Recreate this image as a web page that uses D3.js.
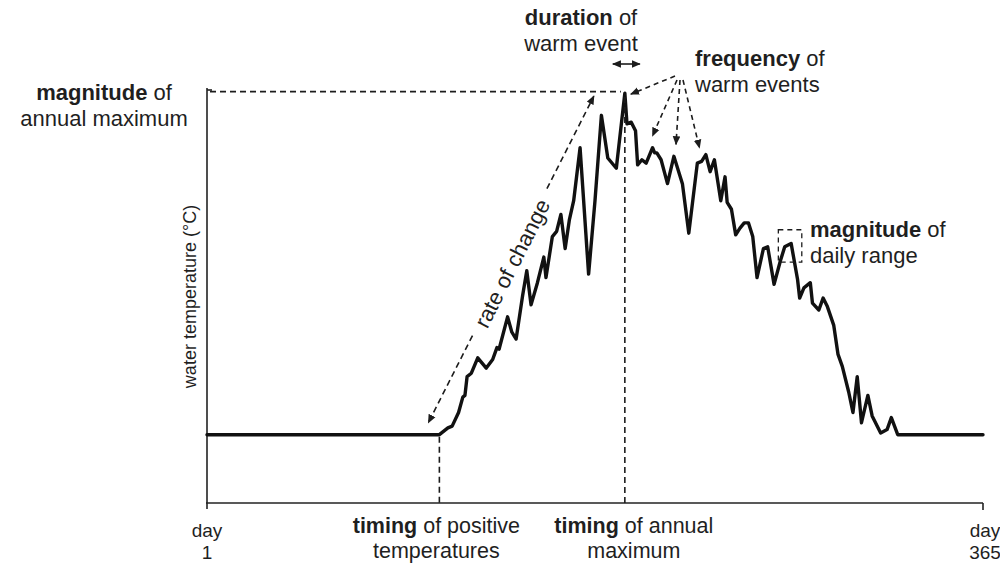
<!DOCTYPE html>
<html>
<head>
<meta charset="utf-8">
<script src="https://cdn.jsdelivr.net/npm/d3@7/dist/d3.min.js"></script>
<style>
  html, body { margin: 0; padding: 0; background: #fff; }
  svg { display: block; }
  text { font-family: "Liberation Sans", Arial, sans-serif; fill: #1f1f1f; }
</style>
</head>
<body>
<svg id="chart" width="1000" height="567"></svg>
<script>
// Daily water temperature over one year (day of year, °C relative to 0)
const days  = [1, 110, 114, 116, 119, 121, 122, 123, 125, 128, 132, 135, 137, 138, 142, 144, 146, 149, 151, 153,
               156, 159, 160, 163, 165, 167, 169, 171, 173, 176, 180, 183, 186, 189, 193, 197, 198, 200, 202, 203,
               205, 207, 210, 211, 212, 214, 217, 220, 224, 227, 231, 233, 235, 237, 239, 242, 244, 245, 247, 249,
               251, 253, 255, 257, 259, 262, 264, 267, 270, 272, 275, 278, 279, 281, 284, 285, 288, 290, 292, 295,
               297, 299, 302, 304, 306, 308, 311, 313, 317, 320, 322, 325, 365];
const temps = [0, 0, 0.4, 0.5, 1.3, 2.2, 2.3, 3.4, 3.6, 4.5, 3.9, 4.4, 5.1, 5.0, 6.9, 6.0, 5.6, 8.1, 9.6, 7.6,
               8.9, 10.4, 9.2, 11.6, 11.9, 12.9, 10.9, 12.6, 13.7, 16.8, 9.4, 13.7, 18.7, 16.2, 15.6, 20.0, 18.2, 18.3, 17.8, 15.8,
               16.1, 15.9, 16.8, 16.5, 16.5, 16.1, 14.7, 16.3, 14.7, 11.8, 15.9, 16.0, 16.4, 15.4, 16.1, 13.7, 15.1, 13.6, 13.2, 11.7,
               12.1, 12.4, 12.4, 11.6, 9.2, 10.9, 11.0, 8.8, 10.2, 11.0, 11.2, 9.1, 8.0, 8.6, 8.9, 7.7, 7.3, 8.0, 7.5, 6.4,
               4.7, 4.0, 2.5, 1.3, 3.4, 0.7, 2.3, 1.1, 0.1, 0.3, 1.0, 0, 0];

// Axis end labels
const tickDays   = [1, 365];
const tickLabels = [["day", "1"], ["day", "365"]];

// Timing markers on the x axis
const timingDays   = [110, 197];
const timingLabels = [["timing", " of positive", "temperatures"], ["timing", " of annual", "maximum"]];

// Warm events pointed at by the frequency arrows (day, °C)
const warmEventDays  = [197, 210, 221, 232];
const warmEventTemps = [20.0, 17.5, 17.0, 16.8];

// Daily range box (day span, °C span)
const rangeDays  = [269, 280];
const rangeTemps = [10.1, 12.0];

const svg = d3.select("#chart");

const x = d3.scaleLinear().domain([1, 365]).range([207, 983]);
const y = d3.scaleLinear().domain([-4, 20.3]).range([503, 88]);

const ink = "#1c1c1c";
const dash = "6,4";

// arrowhead marker
const defs = svg.append("defs");
defs.append("marker")
  .attr("id", "head")
  .attr("viewBox", "0 0 10 10")
  .attr("refX", 9).attr("refY", 5)
  .attr("markerWidth", 9).attr("markerHeight", 9)
  .attr("markerUnits", "userSpaceOnUse")
  .attr("orient", "auto-start-reverse")
  .append("path")
  .attr("d", "M0,0.8 L10,5 L0,9.2 Z")
  .attr("fill", ink);

// ---- axes ----
const axes = svg.append("g").attr("stroke", "#222").attr("stroke-width", 1.6).attr("fill", "none");
axes.append("line").attr("x1", x(1)).attr("x2", x(1)).attr("y1", y.range()[1]).attr("y2", y.range()[0] + 6);
axes.append("line").attr("x1", x(1)).attr("x2", x(1) + 5).attr("y1", y.range()[1] + 2).attr("y2", y.range()[1] + 2);
axes.append("line").attr("x1", x(1) - 1).attr("x2", x(365)).attr("y1", y.range()[0]).attr("y2", y.range()[0]);
axes.append("line").attr("x1", x(365)).attr("x2", x(365)).attr("y1", y.range()[0]).attr("y2", y.range()[0] + 7);

// x-axis end labels
tickDays.forEach((d, i) => {
  const t = svg.append("text").attr("text-anchor", "middle").attr("font-size", 19)
    .attr("transform", `translate(${x(d) + (i ? 2 : 0)},0)`);
  t.append("tspan").attr("x", 0).attr("y", 537).text(tickLabels[i][0]);
  t.append("tspan").attr("x", 0).attr("y", 559).text(tickLabels[i][1]);
});

// y-axis title
svg.append("text")
  .attr("transform", `translate(196,${(y.range()[0] + y.range()[1]) / 2 + 1}) rotate(-90)`)
  .attr("text-anchor", "middle").attr("font-size", 18)
  .text("water temperature (°C)");

// ---- temperature curve ----
const series = days.map((d, i) => [d, temps[i]]);
svg.append("path")
  .datum(series)
  .attr("fill", "none")
  .attr("stroke", "#111")
  .attr("stroke-width", 3.4)
  .attr("stroke-linejoin", "round")
  .attr("stroke-linecap", "round")
  .attr("d", d3.line().x(d => x(d[0])).y(d => y(d[1])));

const maxT = d3.max(temps);
const maxDay = days[temps.indexOf(maxT)];

const ann = svg.append("g").attr("stroke", ink).attr("stroke-width", 1.6).attr("fill", "none");

// magnitude of annual maximum: dashed level line
ann.append("line")
  .attr("x1", x(1) + 3).attr("x2", x(maxDay) - 4)
  .attr("y1", y(maxT) - 1.5).attr("y2", y(maxT) - 1.5)
  .attr("stroke-dasharray", dash);

// timing markers: dashed verticals down to the axis
ann.append("line")
  .attr("x1", x(timingDays[0])).attr("x2", x(timingDays[0]))
  .attr("y1", y(0) + 2).attr("y2", y.range()[0])
  .attr("stroke-dasharray", dash);
ann.append("line")
  .attr("x1", x(maxDay)).attr("x2", x(maxDay))
  .attr("y1", y(maxT) + 4).attr("y2", y.range()[0])
  .attr("stroke-dasharray", dash);

// rate of change: double-headed dashed arrow, broken around its label
const rA = [x(timingDays[0]) - 11, y(0) - 12];
const rB = [x(maxDay) - 31, y(maxT) + 3];
const ang = Math.atan2(rB[1] - rA[1], rB[0] - rA[0]);
const mid = [(rA[0] + rB[0]) / 2 + 1, (rA[1] + rB[1]) / 2 + 4];
const rateLabel = svg.append("text")
  .attr("transform", `translate(${mid[0]},${mid[1]}) rotate(${ang * 180 / Math.PI})`)
  .attr("text-anchor", "middle").attr("dy", "0.35em").attr("font-size", 22)
  .text("rate of change");
const gap = rateLabel.node().getComputedTextLength() / 2 + 12;
const midLen = Math.hypot(mid[0] - rA[0], mid[1] - rA[1]);
const along = t => [rA[0] + Math.cos(ang) * t, rA[1] + Math.sin(ang) * t];
const p1 = along(midLen - gap), p2 = along(midLen + gap);
ann.append("line")
  .attr("x1", p1[0]).attr("y1", p1[1]).attr("x2", rA[0]).attr("y2", rA[1])
  .attr("stroke-dasharray", dash).attr("marker-end", "url(#head)");
ann.append("line")
  .attr("x1", p2[0]).attr("y1", p2[1]).attr("x2", rB[0]).attr("y2", rB[1])
  .attr("stroke-dasharray", dash).attr("marker-end", "url(#head)");

// duration of warm event: short solid double arrow
ann.append("line")
  .attr("x1", x(maxDay) - 12).attr("x2", x(maxDay) + 15)
  .attr("y1", 64).attr("y2", 64)
  .attr("marker-start", "url(#head)").attr("marker-end", "url(#head)");

// frequency of warm events: dashed arrows fanning out to each event
const fanOrigin = [680, 77];
warmEventDays.forEach((d, i) => {
  const tx = x(d) + (i === 0 ? 6 : 0);
  const ty = y(warmEventTemps[i]) + (i === 0 ? 1 : 0);
  const ox = fanOrigin[0] + (i === 0 ? -5 : i === 1 ? -3 : i === 2 ? 0 : 3);
  ann.append("line")
    .attr("x1", ox).attr("y1", fanOrigin[1] + (i === 0 ? -1 : 3))
    .attr("x2", tx).attr("y2", ty)
    .attr("stroke-dasharray", "5,4").attr("marker-end", "url(#head)");
});

// magnitude of daily range: dashed box
ann.append("rect")
  .attr("x", x(rangeDays[0])).attr("y", y(rangeTemps[1]))
  .attr("width", x(rangeDays[1]) - x(rangeDays[0]))
  .attr("height", y(rangeTemps[0]) - y(rangeTemps[1]))
  .attr("stroke-width", 1.3)
  .attr("stroke-dasharray", "5,4");

// ---- annotation labels ----
function label(cx, y1, bold, rest, line2, anchor, size) {
  const t = svg.append("text").attr("text-anchor", anchor).attr("font-size", size);
  const a = t.append("tspan").attr("x", cx).attr("y", y1);
  a.append("tspan").attr("font-weight", "bold").text(bold);
  a.append("tspan").text(rest);
  t.append("tspan").attr("x", cx).attr("y", y1 + 26).text(line2);
  return t;
}
label(104, 100, "magnitude", " of", "annual maximum", "middle", 22);
label(581, 25, "duration", " of", "warm event", "middle", 22);
label(695, 66, "frequency", " of", "warm events", "start", 22);
label(810, 237, "magnitude", " of", "daily range", "start", 22);
timingLabels.forEach((l, i) => {
  const cx = x(timingDays[i]) + (i === 0 ? -3 : 9);
  const t = svg.append("text").attr("text-anchor", "middle").attr("font-size", 21.5);
  const a = t.append("tspan").attr("x", cx).attr("y", 533);
  a.append("tspan").attr("font-weight", "bold").text(l[0]);
  a.append("tspan").text(l[1]);
  t.append("tspan").attr("x", cx).attr("y", 558).text(l[2]);
});
</script>
</body>
</html>
